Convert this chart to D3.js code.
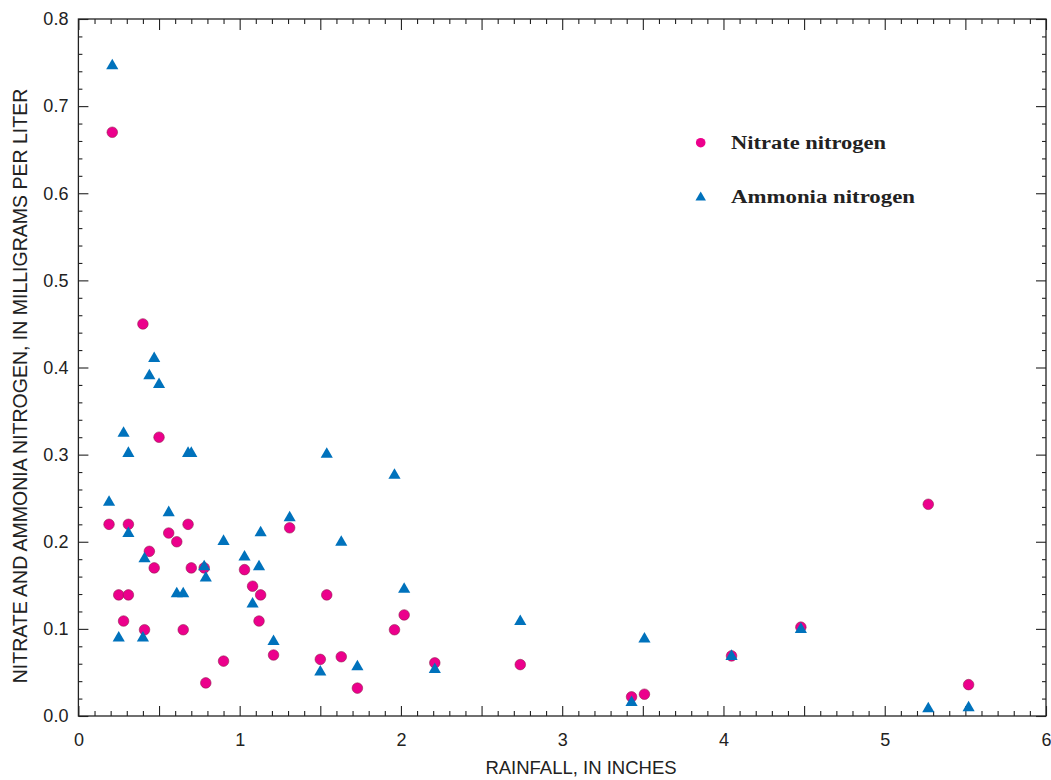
<!DOCTYPE html>
<html>
<head>
<meta charset="utf-8">
<script src="https://cdn.jsdelivr.net/npm/d3@7"></script>
<style>
  html, body { margin: 0; padding: 0; background: #fff; }
  svg { display: block; }
</style>
</head>
<body>
<svg id="chart" width="1051" height="780"></svg>
<script>
// Rainfall events (inches)
const rainfall = [0.19, 0.21, 0.25, 0.28, 0.31, 0.31, 0.40, 0.41, 0.44, 0.47,
                  0.50, 0.56, 0.61, 0.65, 0.68, 0.70, 0.78, 0.79, 0.90, 1.03,
                  1.08, 1.12, 1.13, 1.21, 1.31, 1.50, 1.54, 1.63, 1.73, 1.96,
                  2.02, 2.21, 2.74, 3.43, 3.51, 4.05, 4.48, 5.27, 5.52];
// Nitrate nitrogen (mg/L)
const nitrate = [0.220, 0.670, 0.139, 0.109, 0.220, 0.139, 0.450, 0.099, 0.189, 0.170,
                 0.320, 0.210, 0.200, 0.099, 0.220, 0.170, 0.170, 0.038, 0.063, 0.168,
                 0.149, 0.109, 0.139, 0.070, 0.216, 0.065, 0.139, 0.068, 0.032, 0.099,
                 0.116, 0.061, 0.059, 0.022, 0.025, 0.069, 0.102, 0.243, 0.036];
// Ammonia nitrogen (mg/L)
const ammonia = [0.246, 0.747, 0.090, 0.325, 0.210, 0.302, 0.090, 0.181, 0.391, 0.411,
                 0.381, 0.234, 0.141, 0.141, 0.302, 0.302, 0.172, 0.159, 0.201, 0.183,
                 0.129, 0.172, 0.211, 0.086, 0.228, 0.051, 0.301, 0.200, 0.057, 0.277,
                 0.146, 0.054, 0.109, 0.016, 0.089, 0.069, 0.100, 0.009, 0.010];

const xTickLabels = [0, 1, 2, 3, 4, 5, 6];
const yTickLabels = [0.0, 0.1, 0.2, 0.3, 0.4, 0.5, 0.6, 0.7, 0.8];
const seriesNames = ["Nitrate nitrogen", "Ammonia nitrogen"];
const xTitle = "RAINFALL, IN INCHES";
const yTitle = "NITRATE AND AMMONIA NITROGEN, IN MILLIGRAMS PER LITER";

const pink = "#EC008C", blue = "#0072BC";
const L = 78.4, R = 1046, T = 19, B = 716;

const svg = d3.select("#chart");
const x = d3.scaleLinear().domain([0, 6]).range([L, R]);
const y = d3.scaleLinear().domain([0, 0.8]).range([B, T]);

const axisColor = "#222";
const fontSans = "'Liberation Sans', Arial, Helvetica, sans-serif";

// tick arrays
const xMinor = d3.range(0, 61).map(i => i / 10).filter((v, i) => i % 5 !== 0);
const xMajor = d3.range(0, 13).map(i => i / 2);
const yMinor = d3.range(0, 41).map(i => i / 50).filter((v, i) => i % 5 !== 0);
const yMajor = d3.range(0, 9).map(i => i / 10);

function styleAxis(g) {
  g.select(".domain").remove();
  g.selectAll("line").attr("stroke", axisColor).attr("stroke-width", 1.1);
  g.selectAll("text").attr("fill", "#222").attr("font-family", fontSans).attr("font-size", 18);
}

// bottom axis (inward ticks)
svg.append("g").attr("transform", `translate(0,${B})`)
  .call(d3.axisBottom(x).tickValues(xMinor).tickSize(-5).tickFormat(""))
  .call(styleAxis);
svg.append("g").attr("transform", `translate(0,${B})`)
  .call(d3.axisBottom(x).tickValues(xMajor).tickSize(-10).tickFormat(""))
  .call(styleAxis);
svg.append("g").attr("transform", `translate(0,${B})`)
  .call(d3.axisBottom(x).tickValues(xTickLabels).tickSize(0).tickPadding(17).tickFormat(d3.format("d")))
  .call(styleAxis);
// top axis
svg.append("g").attr("transform", `translate(0,${T})`)
  .call(d3.axisTop(x).tickValues(xMinor).tickSize(-5).tickFormat(""))
  .call(styleAxis);
svg.append("g").attr("transform", `translate(0,${T})`)
  .call(d3.axisTop(x).tickValues(xMajor).tickSize(-11).tickFormat(""))
  .call(styleAxis);
// left axis
svg.append("g").attr("transform", `translate(${L},0)`)
  .call(d3.axisLeft(y).tickValues(yMinor).tickSize(-4).tickFormat(""))
  .call(styleAxis);
svg.append("g").attr("transform", `translate(${L},0)`)
  .call(d3.axisLeft(y).tickValues(yMajor).tickSize(-10).tickFormat(""))
  .call(styleAxis);
svg.append("g").attr("transform", `translate(${L},0)`)
  .call(d3.axisLeft(y).tickValues(yTickLabels).tickSize(0).tickPadding(10).tickFormat(d3.format(".1f")))
  .call(styleAxis);
// right axis
svg.append("g").attr("transform", `translate(${R},0)`)
  .call(d3.axisRight(y).tickValues(yMinor).tickSize(-4).tickFormat(""))
  .call(styleAxis);
svg.append("g").attr("transform", `translate(${R},0)`)
  .call(d3.axisRight(y).tickValues(yMajor).tickSize(-10).tickFormat(""))
  .call(styleAxis);

// frame
svg.append("rect").attr("x", L).attr("y", T).attr("width", R - L).attr("height", B - T)
  .attr("fill", "none").attr("stroke", axisColor).attr("stroke-width", 1.3);

// axis titles
svg.append("text").attr("x", 581).attr("y", 774)
  .attr("text-anchor", "middle").attr("font-family", fontSans).attr("font-size", 18.5)
  .attr("fill", "#222").text(xTitle);
svg.append("text").attr("transform", `translate(27,386) rotate(-90)`)
  .attr("text-anchor", "middle").attr("font-family", fontSans).attr("font-size", 19.5)
  .attr("fill", "#222").text(yTitle);

// data
const pts = rainfall.map((r, i) => ({ r, n: nitrate[i], a: ammonia[i] }));

const tri = d3.symbol().type(d3.symbolTriangle).size(64);

svg.append("g").selectAll("circle").data(pts).join("circle")
  .attr("cx", d => x(d.r)).attr("cy", d => y(d.n)).attr("r", 5.3)
  .attr("fill", pink).attr("stroke", "#8e1b4a").attr("stroke-width", 0.8).attr("stroke-opacity", 0.7);

svg.append("g").selectAll("path").data(pts).join("path")
  .attr("transform", d => `translate(${x(d.r)},${y(d.a) + 0.5})`)
  .attr("d", tri).attr("fill", blue);

// legend
const leg = svg.append("g");
leg.append("circle").attr("cx", 700.7).attr("cy", 142.7).attr("r", 4.8).attr("fill", pink);
leg.append("path").attr("transform", "translate(700.7,197.5)").attr("d", d3.symbol().type(d3.symbolTriangle).size(48)).attr("fill", blue);
leg.append("text").attr("x", 731).attr("y", 148.5).attr("font-family", "'Liberation Serif', 'DejaVu Serif', serif")
  .attr("font-weight", "bold").attr("font-size", 18).attr("fill", "#222")
  .attr("textLength", 155).attr("lengthAdjust", "spacingAndGlyphs").text(seriesNames[0]);
leg.append("text").attr("x", 731).attr("y", 203).attr("font-family", "'Liberation Serif', 'DejaVu Serif', serif")
  .attr("font-weight", "bold").attr("font-size", 18).attr("fill", "#222")
  .attr("textLength", 184).attr("lengthAdjust", "spacingAndGlyphs").text(seriesNames[1]);
</script>
</body>
</html>
